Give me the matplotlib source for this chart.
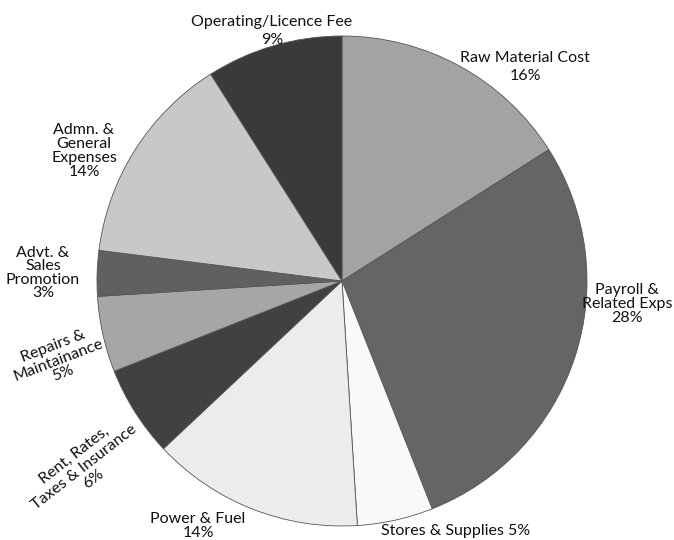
import matplotlib.pyplot as plt

# slices, clockwise from 12 o'clock
names = ["Raw Material Cost", "Payroll &\nRelated Exps", "Stores & Supplies",
         "Power & Fuel", "Rent, Rates,\nTaxes & Insurance", "Repairs &\nMaintainance",
         "Advt. &\nSales\nPromotion", "Admn. &\nGeneral\nExpenses", "Operating/Licence Fee"]
shares = [16, 28, 5, 14, 6, 5, 3, 14, 9]
colors = ["#a3a3a5", "#656568", "#f9f9f9", "#ececed", "#414142",
          "#a6a6a8", "#606063", "#c8c8ca", "#3a3a3a"]

# label placement (pixel coords of the text block centre), rotation, line spacing
label_xy = [(525, 67), (627, 304), (456, 531), (198, 526), (84, 467),
            (58, 360), (43, 273), (84, 151), (272, 31)]
label_rot = [0, 0, 0, 0, 38, 21, 0, 0, 0]
label_ls = [1.35, 1.0, 1.0, 1.0, 1.1, 1.05, 0.95, 1.0, 1.35]
inline_pct = [False, False, True, False, False, False, False, False, False]

fig = plt.figure(figsize=(6.74, 5.4), dpi=100)
ax = fig.add_axes([0, 0, 1, 1])

ax.pie(shares, colors=colors, startangle=-90, counterclock=True,
       center=(342, 281), radius=245,
       wedgeprops=dict(edgecolor="#555555", linewidth=0.6))

ax.set_xlim(0, 674)
ax.set_ylim(540, 0)
ax.set_aspect("equal")
ax.axis("off")

for name, s, (x, y), rot, ls, inl in zip(names, shares, label_xy, label_rot,
                                         label_ls, inline_pct):
    txt = f"{name} {s}%" if inl else f"{name}\n{s}%"
    ax.text(x, y, txt, ha="center", va="center", multialignment="center",
            rotation=rot, rotation_mode="anchor", fontsize=11.5,
            family="Lato", linespacing=ls, color="#111111")

plt.savefig("out.png", dpi=100)
